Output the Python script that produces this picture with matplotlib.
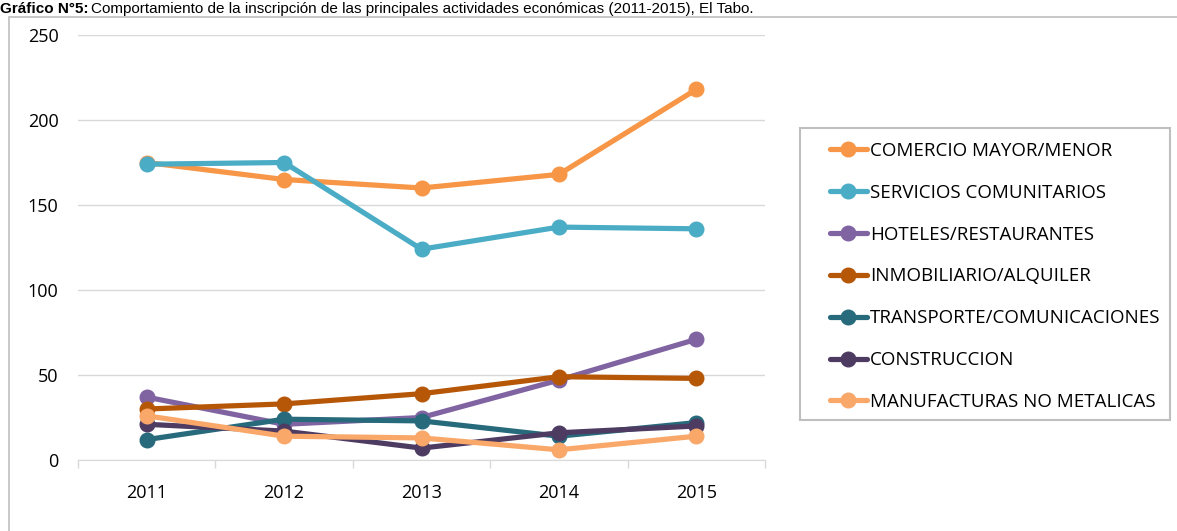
import matplotlib.pyplot as plt
from matplotlib.patches import Rectangle

years = ["2011", "2012", "2013", "2014", "2015"]

comercio = [175, 165, 160, 168, 218]
servicios = [174, 175, 124, 137, 136]
hoteles = [37, 21, 25, 47, 71]
inmobiliario = [30, 33, 39, 49, 48]
transporte = [12, 24, 23, 14, 22]
construccion = [21, 17, 7, 16, 20]
manufacturas = [26, 14, 13, 6, 14]

series = [
    ("COMERCIO MAYOR/MENOR", comercio, "#F79646"),
    ("SERVICIOS COMUNITARIOS", servicios, "#4BACC6"),
    ("HOTELES/RESTAURANTES", hoteles, "#8064A2"),
    ("INMOBILIARIO/ALQUILER", inmobiliario, "#B65708"),
    ("TRANSPORTE/COMUNICACIONES", transporte, "#276A7C"),
    ("CONSTRUCCION", construccion, "#4D3B62"),
    ("MANUFACTURAS NO METALICAS", manufacturas, "#F9A86A"),
]

W, H = 1177, 531
fig = plt.figure(figsize=(W / 100, H / 100), dpi=100)
ax = fig.add_axes([78 / W, 1 - 460 / H, 687 / W, 425 / H])

# outer chart frame
fig.patches.append(Rectangle((9 / W, -0.01), 1.1, 1 - 17 / H + 0.01,
                             transform=fig.transFigure, fill=False,
                             edgecolor="#BFBFBF", linewidth=1.2))
# legend frame
fig.patches.append(Rectangle((800 / W, 1 - 420 / H), 370 / W, 292 / H,
                             transform=fig.transFigure, fill=False,
                             edgecolor="#BFBFBF", linewidth=1.5))

x = range(len(years))
for name, vals, col in series:
    ax.plot(x, vals, color=col, linewidth=3.75, marker="o", markersize=10.5,
            label=name, solid_capstyle="round")

ax.set_xlim(-0.5, 4.5)
ax.set_ylim(0, 250)
ax.set_yticks([0, 50, 100, 150, 200, 250])
ax.set_xticks(list(x))
ax.set_xticklabels(years)
ax.set_xticks([-0.5, 0.5, 1.5, 2.5, 3.5, 4.5], minor=True)
ax.tick_params(axis="x", which="major", length=0, pad=17)
ax.tick_params(axis="x", which="minor", length=6, color="#D9D9D9", width=1)
ax.tick_params(axis="y", length=0, pad=14)
for lab in ax.get_xticklabels() + ax.get_yticklabels():
    lab.set_fontfamily("Open Sans")
    lab.set_fontsize(13)
    lab.set_color("#000000")
ax.grid(axis="y", color="#D9D9D9", linewidth=1)
ax.set_axisbelow(True)
for s in ["top", "right", "left"]:
    ax.spines[s].set_visible(False)
ax.spines["bottom"].set_color("#D9D9D9")

leg = fig.legend(loc="upper left", bbox_to_anchor=(830 / W, 1 - 142 / H),
                 prop={"family": "Open Sans", "size": 13.5}, frameon=False,
                 handlelength=1.95, labelspacing=1.27, handletextpad=0.2,
                 borderpad=0, borderaxespad=0)

# title (bold prefix + regular text)
ty = 1 - 13 / H
t1 = fig.text(0.0, ty, "Gráfico N°5:", fontsize=11, family="Liberation Sans",
              weight="bold", va="baseline", ha="left")
fig.canvas.draw()
bb = t1.get_window_extent()
fig.text(bb.x1 / W + 3 / W, ty,
         "Comportamiento de la inscripción de las principales actividades económicas (2011-2015), El Tabo.",
         fontsize=11, family="Liberation Sans", va="baseline", ha="left")

fig.savefig("out.png", dpi=100)
